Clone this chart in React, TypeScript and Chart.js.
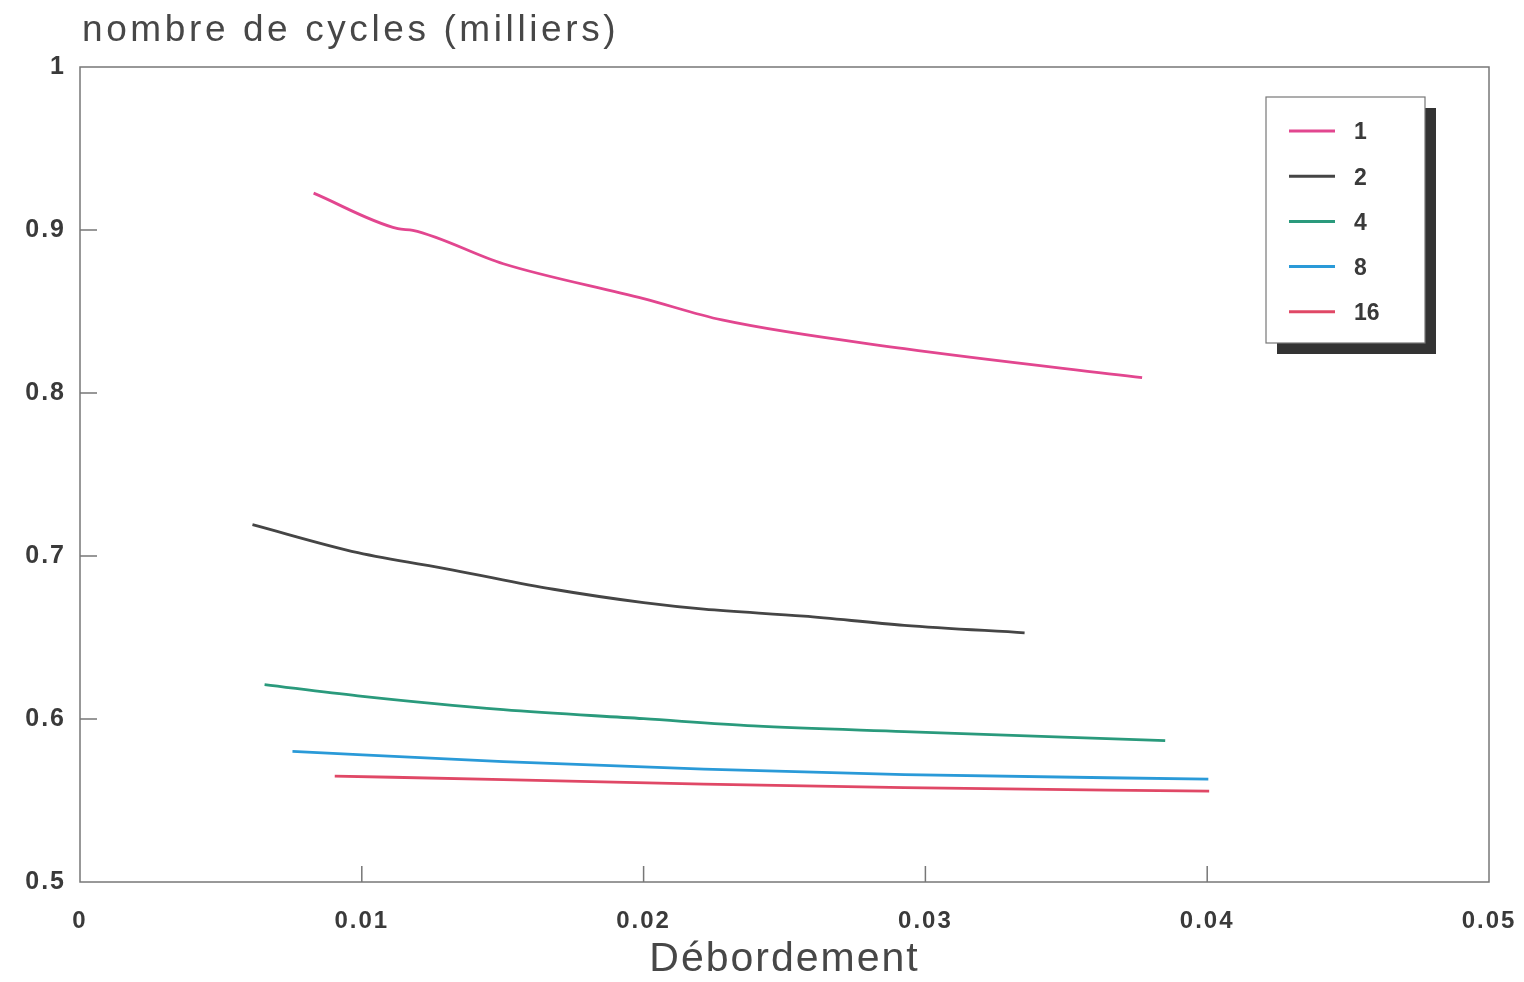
import React, { useEffect, useRef } from "react";
import { Chart, registerables } from "chart.js";

Chart.register(...registerables);

const yAxisTitle = "nombre de cycles (milliers)";
const xAxisTitle = "Débordement";
const seriesLabels = ["1", "2", "4", "8", "16"];
const seriesColors = ["#e2468f", "#454545", "#2a9a7c", "#2a9ad8", "#e04866"];

const x1 = [0.00829, 0.01128, 0.01181, 0.01502, 0.0200, 0.02278, 0.02925, 0.03769];
const y1 = [0.9226, 0.9008, 0.8998, 0.8793, 0.8579, 0.8448, 0.8272, 0.8094];

const x2 = [0.00612, 0.00986, 0.01324, 0.0168, 0.0200, 0.02214, 0.02569, 0.02925, 0.03352];
const y2 = [0.7192, 0.7020, 0.6914, 0.6796, 0.6714, 0.6674, 0.6631, 0.6575, 0.6529];

const x4 = [0.00655, 0.00986, 0.01502, 0.0200, 0.02391, 0.02925, 0.03851];
const y4 = [0.6211, 0.6142, 0.6057, 0.6002, 0.5958, 0.5923, 0.5867];

const x8 = [0.00754, 0.01502, 0.02214, 0.02925, 0.04004];
const y8 = [0.5802, 0.5738, 0.5693, 0.5659, 0.5631];

const x16 = [0.00904, 0.01502, 0.02214, 0.02925, 0.04007];
const y16 = [0.5650, 0.5628, 0.5601, 0.5579, 0.5557];

const xTicks = [0, 0.01, 0.02, 0.03, 0.04, 0.05];
const yTicks = [0.5, 0.6, 0.7, 0.8, 0.9, 1];
const xTickLabels = ["0", "0.01", "0.02", "0.03", "0.04", "0.05"];
const yTickLabels = ["0.5", "0.6", "0.7", "0.8", "0.9", "1"];

const seriesX = [x1, x2, x4, x8, x16];
const seriesY = [y1, y2, y4, y8, y16];

const FONT = "'Liberation Sans', Arial, sans-serif";
const TEXT = "#3a3a3a";

const spacingPlugin = {
  id: "tickSpacing",
  beforeDraw(chart: any) {
    (chart.ctx as any).letterSpacing = "2px";
  },
  afterDatasetsDraw(chart: any) {
    (chart.ctx as any).letterSpacing = "0px";
  },
};

const framePlugin = {
  id: "frameAndExtras",
  afterDraw(chart: any) {
    const ctx = chart.ctx;
    const a = chart.chartArea;
    const xs = chart.scales.x;
    const ys = chart.scales.y;
    ctx.save();
    (ctx as any).letterSpacing = "0px";
    // frame
    ctx.strokeStyle = "#777";
    ctx.lineWidth = 1.5;
    ctx.strokeRect(a.left, a.top, a.right - a.left, a.bottom - a.top);
    // inner ticks
    ctx.beginPath();
    xTicks.forEach((v) => {
      if (v <= xs.min || v >= xs.max) return;
      const px = xs.getPixelForValue(v);
      ctx.moveTo(px, a.bottom);
      ctx.lineTo(px, a.bottom - 16);
    });
    yTicks.forEach((v) => {
      if (v <= ys.min || v >= ys.max) return;
      const py = ys.getPixelForValue(v);
      ctx.moveTo(a.left, py);
      ctx.lineTo(a.left + 17, py);
    });
    ctx.stroke();

    // top title
    ctx.fillStyle = "#474747";
    ctx.font = `37px ${FONT}`;
    (ctx as any).letterSpacing = "3.6px";
    ctx.textAlign = "left";
    ctx.textBaseline = "alphabetic";
    ctx.fillText(yAxisTitle, a.left + 2, 41);
    (ctx as any).letterSpacing = "0px";

    // legend
    const lx = 1266;
    const ly = 97;
    const lw = 159;
    const lh = 246;
    ctx.fillStyle = "#333";
    ctx.fillRect(lx + 11, ly + 11, lw, lh);
    ctx.fillStyle = "#fff";
    ctx.fillRect(lx, ly, lw, lh);
    ctx.strokeStyle = "#777";
    ctx.lineWidth = 1.2;
    ctx.strokeRect(lx, ly, lw, lh);
    ctx.font = `bold 23px ${FONT}`;
    ctx.textBaseline = "middle";
    chart.data.datasets.forEach((ds: any, i: number) => {
      const yy = ly + 34 + i * 45.2;
      ctx.strokeStyle = ds.borderColor;
      ctx.lineWidth = 3;
      ctx.beginPath();
      ctx.moveTo(lx + 23, yy);
      ctx.lineTo(lx + 69, yy);
      ctx.stroke();
      ctx.fillStyle = TEXT;
      ctx.fillText(ds.label, lx + 88, yy + 2);
    });
    ctx.restore();
  },
};

export default function App() {
  const ref = useRef<HTMLCanvasElement | null>(null);

  useEffect(() => {
    document.body.style.margin = "0";
    const canvas = ref.current;
    if (!canvas) return;
    const datasets = seriesLabels.map((label, i) => ({
      label,
      data: seriesX[i].map((x, j) => ({ x, y: seriesY[i][j] })),
      borderColor: seriesColors[i],
      backgroundColor: seriesColors[i],
      borderWidth: 2.8,
      pointRadius: 0,
      cubicInterpolationMode: "monotone" as const,
      fill: false,
    }));
    const chart = new Chart(canvas, {
      type: "line",
      data: { datasets },
      options: {
        animation: false,
        responsive: false,
        maintainAspectRatio: false,
        layout: { padding: { top: 67, right: 35, left: 0, bottom: 0 } },
        plugins: {
          legend: { display: false },
          tooltip: { enabled: false },
          title: { display: false },
        },
        scales: {
          x: {
            type: "linear",
            min: 0,
            max: 0.05,
            afterBuildTicks: (s: any) => {
              s.ticks = xTicks.map((v) => ({ value: v }));
            },
            afterFit: (s: any) => {
              s.height = 100;
              s.paddingRight = 0;
              s.paddingLeft = 0;
            },
            grid: { display: false, drawTicks: false },
            border: { display: false },
            ticks: {
              padding: 25,
              color: TEXT,
              font: { family: FONT, size: 24, weight: "bold" },
              maxRotation: 0,
              callback: (v: any) => {
                const idx = xTicks.findIndex((t) => Math.abs(t - Number(v)) < 1e-9);
                return idx >= 0 ? xTickLabels[idx] : "";
              },
            },
            title: {
              display: true,
              text: xAxisTitle,
              color: "#474747",
              font: { family: FONT, size: 41, lineHeight: 1 },
              padding: { top: 0, bottom: 2 },
            },
          },
          y: {
            type: "linear",
            min: 0.5,
            max: 1,
            afterBuildTicks: (s: any) => {
              s.ticks = yTicks.map((v) => ({ value: v }));
            },
            afterFit: (s: any) => {
              s.width = 80;
              s.paddingTop = 0;
              s.paddingBottom = 0;
            },
            grid: { display: false, drawTicks: false },
            border: { display: false },
            ticks: {
              padding: 14,
              color: TEXT,
              font: { family: FONT, size: 25, weight: "bold" },
              callback: (v: any) => {
                const idx = yTicks.findIndex((t) => Math.abs(t - Number(v)) < 1e-9);
                return idx >= 0 ? yTickLabels[idx] : "";
              },
            },
          },
        },
      },
      plugins: [spacingPlugin, framePlugin],
    });
    return () => chart.destroy();
  }, []);

  return (
    <div style={{ width: 1524, height: 982, position: "relative", background: "#fff" }}>
      <canvas ref={ref} width={1524} height={982} style={{ display: "block" }} />
    </div>
  );
}
